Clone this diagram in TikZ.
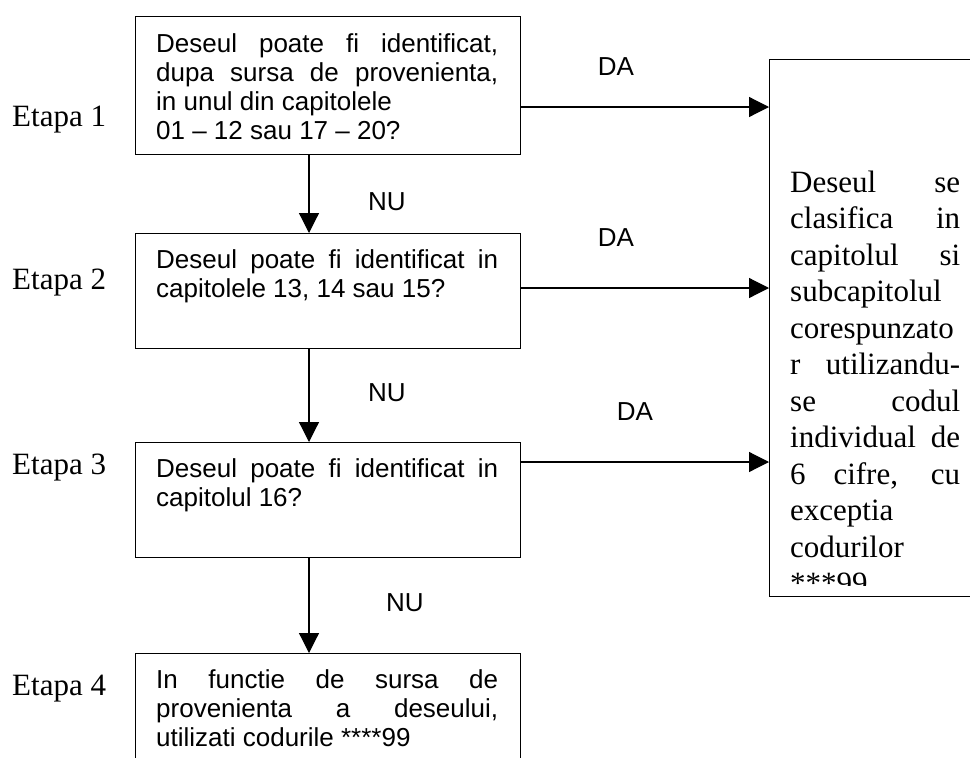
\documentclass[tikz,border=0pt]{standalone}
\usepackage{fontspec}
\setmainfont{Liberation Serif}
\newfontfamily\arial{Liberation Sans}
\usetikzlibrary{arrows.meta,calc}

\begin{document}
\begin{tikzpicture}[x=1pt,y=-1pt,
  box/.style={draw, line width=1.4pt, rectangle, inner sep=0pt, anchor=north west},
  arr/.style={line width=1.2pt, -{Triangle[length=20pt,width=20pt]}},
  qtext/.style={anchor=base west, inner sep=0pt, font=\arial\fontsize{26}{29}\selectfont},
  rtext/.style={anchor=base west, inner sep=0pt, font=\fontsize{31}{36.5}\selectfont},
  lbl/.style={inner sep=0pt, font=\arial\fontsize{26}{29}\selectfont},
  stage/.style={anchor=base west, inner sep=0pt, font=\fontsize{31}{36}\selectfont}]

\clip (0,0) rectangle (970,758);

% question boxes and the result box
\node[box, minimum width=385pt, minimum height=138pt] (b1) at (135,16) {};
\node[box, minimum width=385pt, minimum height=115pt] (b2) at (135,233) {};
\node[box, minimum width=385pt, minimum height=115pt] (b3) at (135,442) {};
\node[box, minimum width=385pt, minimum height=150pt] (b4) at (135,653) {};
\node[box, minimum width=230pt, minimum height=537pt] (res) at (769,59) {};

% box texts
\node[qtext] (t1) at (156,52) {\parbox[t]{342pt}{%
  \makebox[342pt][s]{Deseul poate fi identificat,}\\
  \makebox[342pt][s]{dupa sursa de provenienta,}\\
  in unul din capitolele\\
  01 – 12 sau 17 – 20?}};
\node[qtext] (t2) at (156,268) {\parbox[t]{342pt}{%
  \makebox[342pt][s]{Deseul poate fi identificat in}\\
  capitolele 13, 14 sau 15?}};
\node[qtext] (t3) at (156,477) {\parbox[t]{342pt}{%
  \makebox[342pt][s]{Deseul poate fi identificat in}\\
  capitolul 16?}};
\node[qtext] (t4) at (156,688) {\parbox[t]{342pt}{%
  \makebox[342pt][s]{In functie de sursa de}\\
  \makebox[342pt][s]{provenienta a deseului,}\\
  utilizati codurile ****99}};

\begin{scope}
  \clip (res.north west) rectangle (970,585);
  \node[rtext] (rt) at (790,192) {\parbox[t]{170pt}{%
    \makebox[170pt][s]{Deseul se}\\
    \makebox[170pt][s]{clasifica in}\\
    \makebox[170pt][s]{capitolul si}\\
    subcapitolul\\
    corespunzato\\
    \makebox[170pt][s]{r utilizandu-}\\
    \makebox[170pt][s]{se codul}\\
    \makebox[170pt][s]{individual de}\\
    \makebox[170pt][s]{6 cifre, cu}\\
    exceptia\\
    codurilor\\
    ****99}};
\end{scope}

% connectors
\coordinate (ax) at (309,0);
\coordinate (y1) at (0,107);
\coordinate (y2) at (0,288);
\coordinate (y3) at (0,462);
\draw[arr] (b1.south -| ax) -- (b2.north -| ax);
\draw[arr] (b2.south -| ax) -- (b3.north -| ax);
\draw[arr] (b3.south -| ax) -- (b4.north -| ax);
\draw[arr] (b1.east |- y1) -- (res.west |- y1);
\draw[arr] (b2.east |- y2) -- (res.west |- y2);
\draw[arr] (b3.east |- y3) -- (res.west |- y3);

% connector labels
\node[lbl] (da1) at (616,67) {DA};
\node[lbl] (da2) at (616,238) {DA};
\node[lbl] (da3) at (635,412) {DA};
\node[lbl] (nu1) at (387,202) {NU};
\node[lbl] (nu2) at (387,393) {NU};
\node[lbl] (nu3) at (405,603) {NU};

% stage labels
\node[stage] (e1) at (12,126) {Etapa 1};
\node[stage] (e2) at (12,289) {Etapa 2};
\node[stage] (e3) at (12,474) {Etapa 3};
\node[stage] (e4) at (12,695) {Etapa 4};
\end{tikzpicture}
\end{document}
